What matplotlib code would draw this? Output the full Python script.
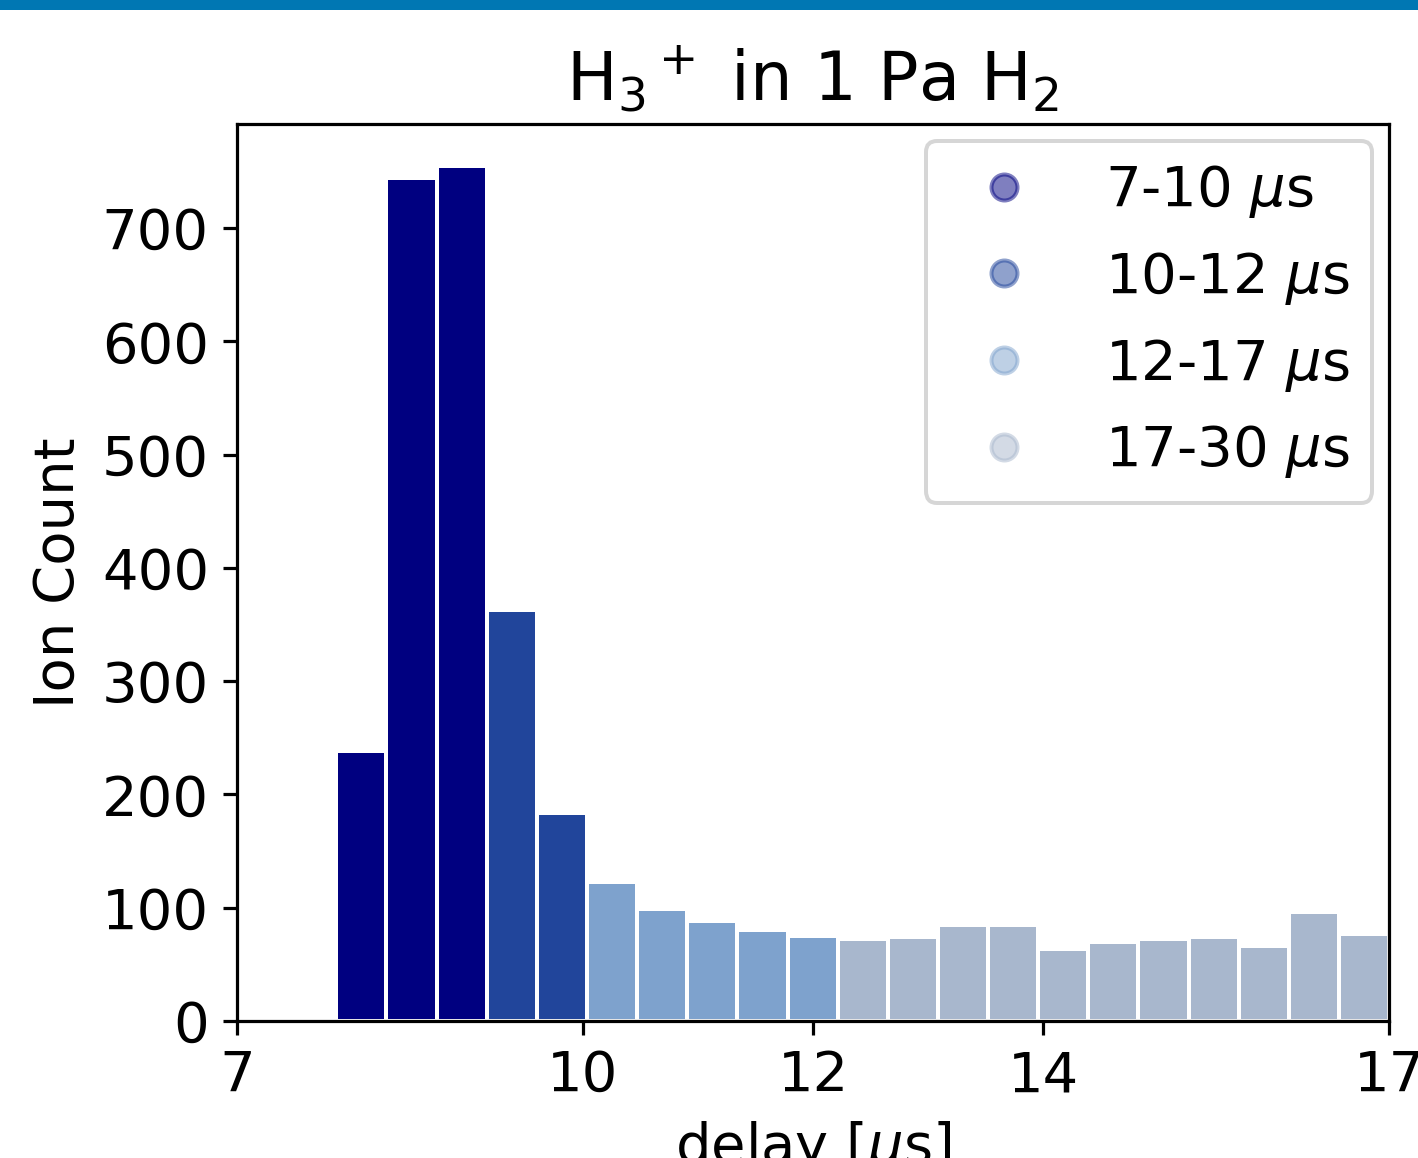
import numpy as np
import matplotlib
matplotlib.use('Agg')
import matplotlib.pyplot as plt
from matplotlib.lines import Line2D
from matplotlib.patches import Rectangle

# histogram of ion arrival delays
bin_start = 7.862
bin_width = 0.4352
counts = [238, 744, 755, 363, 184, 123, 99, 88, 80, 75, 72,
          74, 85, 85, 64, 70, 72, 74, 66, 96, 77]
bar_colors = (['#000080'] * 3 + ['#21459b'] * 2 + ['#7ea2cd'] * 5
              + ['#a8b7cd'] * 11)

group_labels = [r'7-10 $\mu$s', r'10-12 $\mu$s', r'12-17 $\mu$s', r'17-30 $\mu$s']
group_colors = ['#000080', '#21459b', '#7ea2cd', '#a8b7cd']

xticks = [7, 10, 12, 14, 17]
yticks = [0, 100, 200, 300, 400, 500, 600, 700]

plt.rcParams['font.size'] = 14

dpi = 288
fig = plt.figure(figsize=(1418 / dpi, 1158 / dpi), dpi=dpi)
ax = fig.add_axes([237 / 1418, 1 - 1021 / 1158, (1389 - 237) / 1418, (1021 - 124) / 1158])

# blue band along the top edge
fig.patches.append(Rectangle((0, 1 - 8 / 1158), 1, 8 / 1158, transform=fig.transFigure,
                             color='#0077b3', zorder=10))

lefts = bin_start + bin_width * np.arange(len(counts))
ax.bar(lefts, counts, width=bin_width, align='edge', color=bar_colors,
       edgecolor='white', linewidth=1)

handles = [Line2D([], [], marker='o', linestyle='none', markersize=6.5,
                  markeredgewidth=1, color=c, alpha=0.5) for c in group_colors]
ax.legend(handles, group_labels, loc='upper right', borderaxespad=0.3,
          labelspacing=0.53)

ax.set_xlim(7, 17)
ax.set_ylim(0, 792)
ax.set_xticks(xticks)
ax.set_yticks(yticks)
ax.set_xlabel(r'delay [$\mu$s]')
ax.set_ylabel('Ion Count')
ax.set_title(r'H$_3$$^+$ in 1 Pa H$_2$')

fig.savefig('out.png', dpi=dpi)
